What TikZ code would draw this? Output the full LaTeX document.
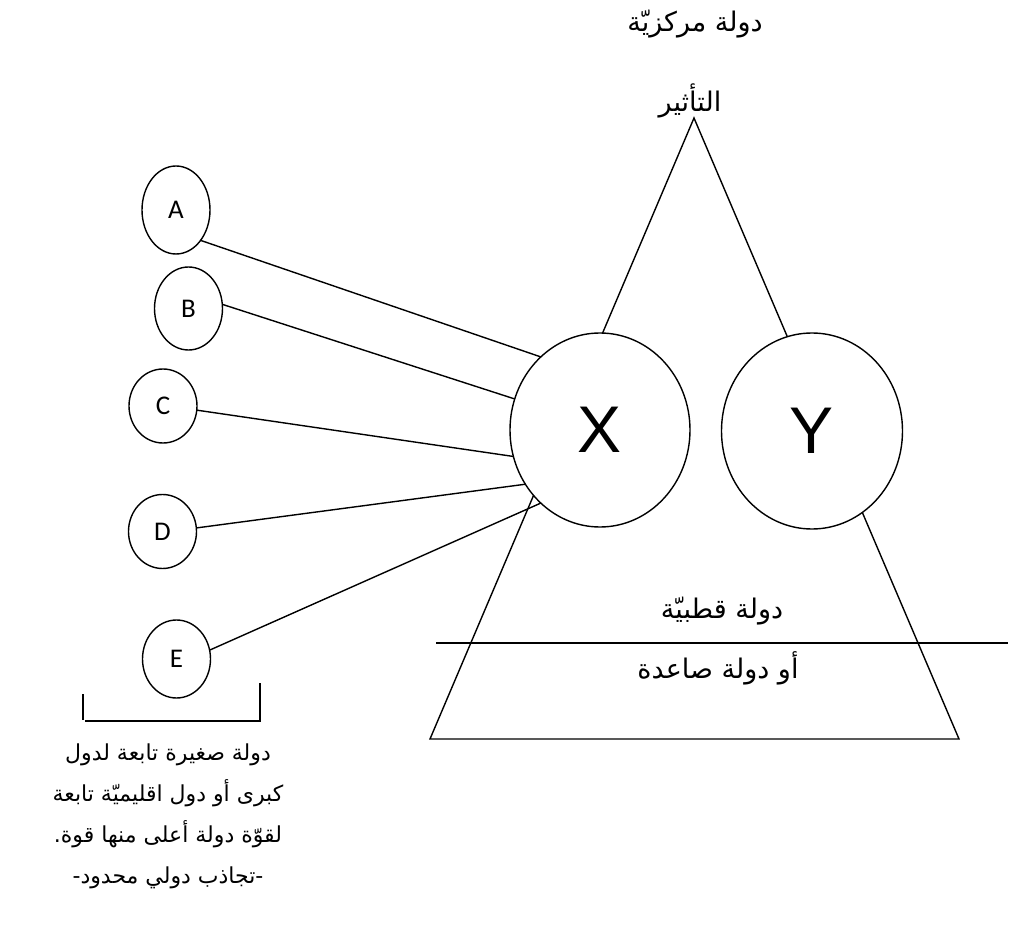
\documentclass[tikz,border=0pt]{standalone}
\usepackage{fontspec}
\usetikzlibrary{shapes.geometric}
\TeXXeTstate=1
\newfontfamily\arabicfont[Script=Arabic]{DejaVu Sans}
\newfontfamily\bigfont{Liberation Sans}
\newfontfamily\smallfont{Carlito}
\newcommand{\artxt}[1]{\beginR #1\endR}
\tikzset{
  ring/.style={ellipse,draw,line width=1.4pt,inner sep=0pt,outer sep=0pt},
  small/.style={ring,minimum width=68pt,font=\smallfont\fontsize{27}{30}\selectfont},
  big/.style={ring,fill=white,font=\bigfont\fontsize{66}{70}\selectfont},
  artext/.style={font=\arabicfont\fontsize{27}{41}\selectfont,inner sep=0pt},
  notetext/.style={font=\arabicfont\fontsize{22}{41}\selectfont,inner sep=0pt}
}
\begin{document}
\begin{tikzpicture}[x=1pt,y=-1pt,line width=1.4pt]
\useasboundingbox (0,0) rectangle (1021,925);
% pyramid
\coordinate (apex) at (694,118);
\coordinate (bl) at (430,739);
\coordinate (br) at (959,739);
\coordinate (cutl) at (436,643);
\coordinate (cutr) at (1008,643);
\draw (apex) -- (bl) -- (br) -- cycle;
\draw (cutl) -- (cutr);
\node[artext] (top) at (695,24) {\artxt{دولة مركزيّة}};
\node[artext] (infl) at (690,101) {\artxt{التأثير}};
\node[artext] (polar) at (722,611) {\artxt{دولة قطبيّة}};
\node[artext] (rising) at (718,668) {\artxt{أو دولة صاعدة}};
% the two poles
\node[big,minimum width=180pt,minimum height=194pt] (X) at (600,430) {X};
\node[big,minimum width=181pt,minimum height=196pt] (Y) at (812,431) {Y};
% small states
\foreach \n/\x/\y/\h in {A/176/210/88,B/188.5/308.5/83,C/163/406/74,D/162.5/531.5/74,E/176.5/659/78}
  {\node[small,minimum height=\h pt] (\n) at (\x,\y) {\n};}
\draw (A.-51) -- (X.129)
      (B.7) -- (X.160)
      (C.-7) -- (X.197)
      (D.6) -- (X.216)
      (E.15) -- (X.231);
% bracket
\coordinate (kl) at (83,694);
\coordinate (kr) at (260,683);
\draw (kl) -- (83,720);
\draw (85,721) -| (kr);
\node[notetext,align=center] (note) at (168,816)
  {\artxt{دولة صغيرة تابعة لدول}\\\artxt{كبرى أو دول اقليميّة تابعة}\\
   \artxt{لقوّة دولة أعلى منها قوة.}\\\artxt{-تجاذب دولي محدود-}};
\end{tikzpicture}
\end{document}
